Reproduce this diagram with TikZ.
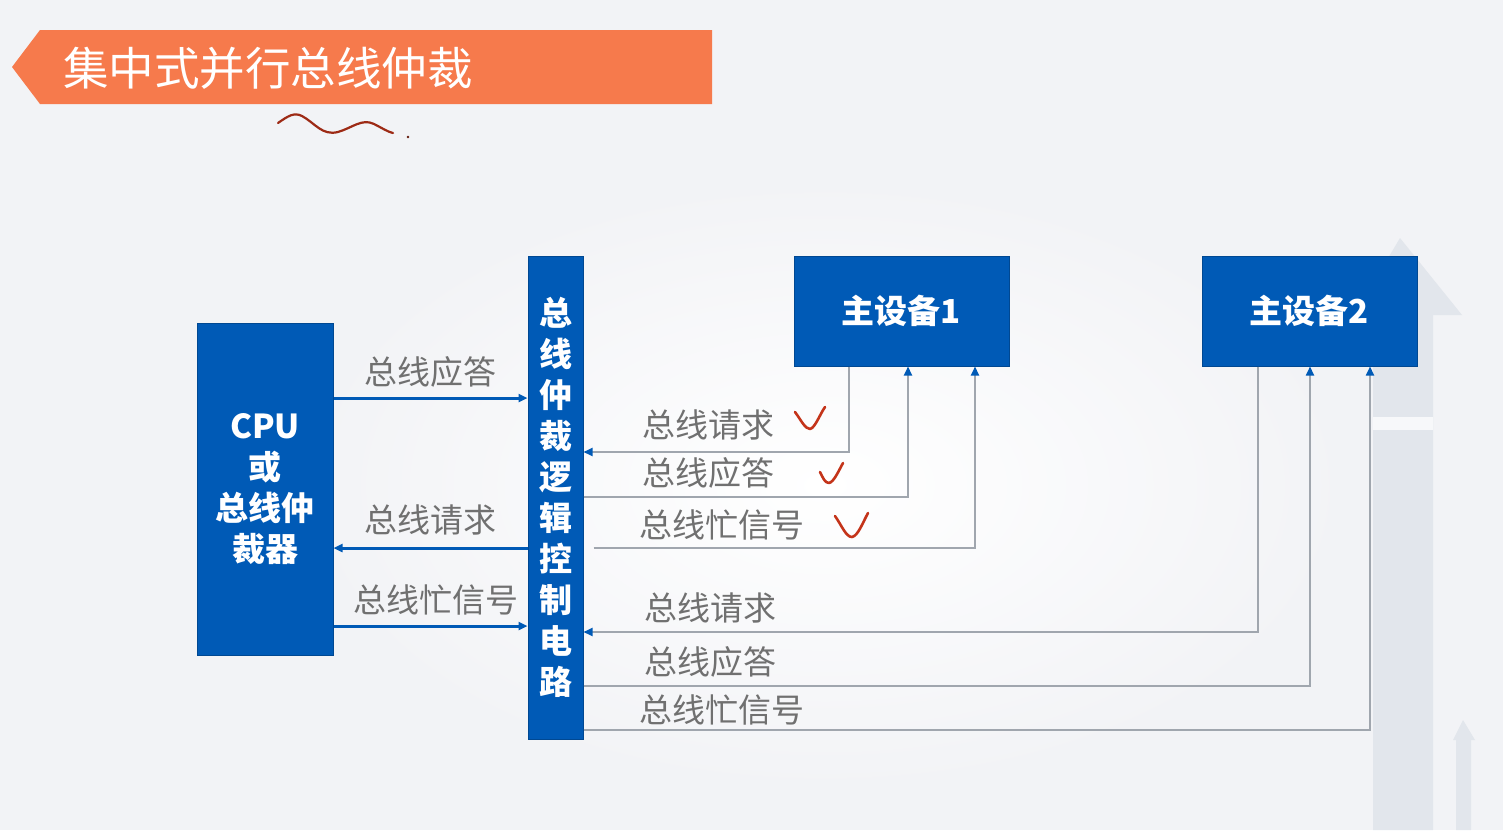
\documentclass[tikz,border=0pt]{standalone}
\usepackage{fontspec}
\setmainfont{Noto Sans CJK SC}
\usetikzlibrary{arrows.meta,calc}
\definecolor{bgc}{RGB}{242,243,246}
\definecolor{boxblue}{RGB}{0,90,182}
\definecolor{banner}{RGB}{246,122,76}
\definecolor{lblgray}{RGB}{112,112,112}
\definecolor{wiregray}{RGB}{160,166,174}
\definecolor{inkred}{RGB}{196,52,26}
\definecolor{decogray}{RGB}{226,230,236}
\tikzset{
  bluebox/.style={draw=boxblue!80!black,line width=1pt,fill=boxblue,text=white,font=\bfseries\fontsize{33}{41}\selectfont,align=center,inner sep=0pt},
  lbl/.style={text=lblgray,font=\fontsize{33}{38}\selectfont,inner sep=0pt},
  bluewire/.style={draw=boxblue,line width=3pt,-{Triangle[length=9pt,width=8pt]}},
  graywire/.style={draw=wiregray,line width=1.8pt,-{Triangle[length=9pt,width=8pt,color=boxblue]}},
  ink/.style={draw=inkred,line width=2.6pt,line cap=round,line join=round}
}
\begin{document}
\begin{tikzpicture}[x=1pt,y=-1pt]
\useasboundingbox (0,0) rectangle (1503,830);
\fill[bgc] (0,0) rectangle (1503,830);
\shade[inner color=white,outer color=bgc] (300,180) rectangle (1350,790);
% faint background arrows
\fill[decogray] (1373,830) -- (1373,322) -- (1350,322) -- (1400,238) -- (1462,315) -- (1433,315) -- (1433,830) -- cycle;
\fill[bgc!60!white] (1373,417) rectangle (1433,430);
\fill[decogray] (1456,830) -- (1456,740) -- (1453,740) -- (1463,720) -- (1475,740) -- (1471,740) -- (1471,830) -- cycle;
% title banner
\fill[banner] (12,67) -- (40,30) -- (712,30) -- (712,104) -- (40,104) -- cycle;
\node[text=white,font=\fontsize{45.5}{48}\selectfont,anchor=west,inner sep=0pt] (title) at (63,68) {集中式并行总线仲裁};
% squiggle annotation
\draw[ink,line width=2.2pt,draw=inkred!80!black] (278,123) .. controls (288,116) and (294,112) .. (302,116) .. controls (315,123) and (322,136) .. (338,132) .. controls (352,128) and (362,118) .. (374,124) .. controls (382,128) and (388,132) .. (393,133);
\fill[inkred!50!black] (408,137) circle (1.3pt);
% boxes
\node[bluebox,minimum width=136pt,minimum height=332pt] (cpu) at (265,489) {CPU\\或\\总线仲\\裁器};
\node[bluebox,minimum width=55pt,minimum height=483pt] (arb) at (555.5,497.5) {总\\线\\仲\\裁\\逻\\辑\\控\\制\\电\\路};
\node[bluebox,minimum width=215pt,minimum height=110pt] (m1) at (901.5,311) {主设备1};
\node[bluebox,minimum width=215pt,minimum height=110pt] (m2) at (1309.5,311) {主设备2};
% helper coordinates
\coordinate (c1) at (0,398);
\coordinate (c2) at (0,548);
\coordinate (c3) at (0,626);
\coordinate (r1) at (849,452);
\coordinate (a1) at (908,497);
\coordinate (b1) at (975,548);
\coordinate (r2) at (1258,632);
\coordinate (a2) at (1310,686);
\coordinate (b2) at (1370,730);
% CPU <-> arbiter
\draw[bluewire] (cpu.east |- c1) -- (arb.west |- c1);
\draw[bluewire] (arb.west |- c2) -- (cpu.east |- c2);
\draw[bluewire] (cpu.east |- c3) -- (arb.west |- c3);
\node[lbl] (l1) at (430,372) {总线应答};
\node[lbl] (l2) at (430,520) {总线请求};
\node[lbl] (l3) at (436,600) {总线忙信号};
% master 1
\draw[graywire] (m1.south -| r1) |- (arb.east |- r1);
\draw[graywire] (arb.east |- a1) -| (m1.south -| a1);
\draw[graywire,shorten <=10pt] (arb.east |- b1) -| (m1.south -| b1);
\node[lbl] (l4) at (708,425) {总线请求};
\node[lbl] (l5) at (708,473) {总线应答};
\node[lbl] (l6) at (722,525) {总线忙信号};
% master 2
\draw[graywire] (m2.south -| r2) |- (arb.east |- r2);
\draw[graywire] (arb.east |- a2) -| (m2.south -| a2);
\draw[graywire] (arb.east |- b2) -| (m2.south -| b2);
\node[lbl] (l7) at (710,608) {总线请求};
\node[lbl] (l8) at (710,662) {总线应答};
\node[lbl] (l9) at (722,710) {总线忙信号};
% check marks
\draw[ink] (795,412) .. controls (801,420) and (805,429) .. (810,429) .. controls (815,428) and (820,414) .. (825,407);
\draw[ink] (820,472) .. controls (823,478) and (825,483) .. (829,483) .. controls (834,482) and (839,470) .. (843,463);
\draw[ink] (835,516) .. controls (842,526) and (846,537) .. (852,537) .. controls (858,536) and (863,522) .. (868,513);
\end{tikzpicture}
\end{document}
